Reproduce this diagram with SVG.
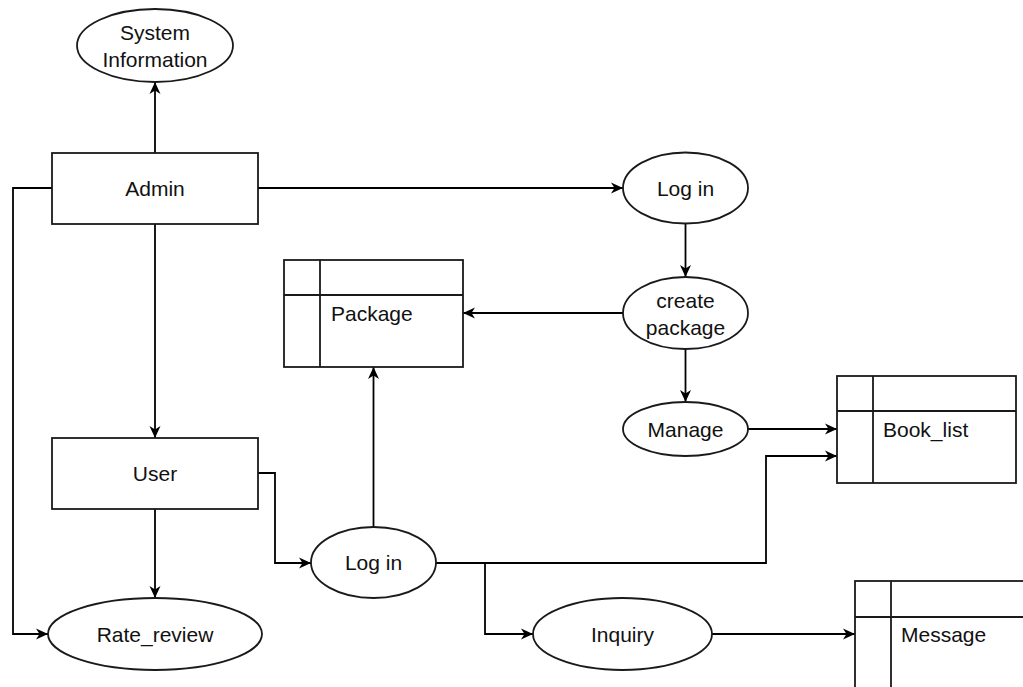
<svg xmlns="http://www.w3.org/2000/svg" width="1023" height="687" viewBox="0 0 1023 687">
<defs>
<marker id="arr" markerUnits="userSpaceOnUse" markerWidth="14" markerHeight="14" refX="12" refY="6" orient="auto">
<path d="M0,0.5 L12,6 L0,11.5 L3.5,6 Z" fill="#000"/>
</marker>
<style>
.s{fill:#fff;stroke:#1a1a1a;stroke-width:1.8}
.l{fill:none;stroke:#1a1a1a;stroke-width:1.8}
.c{fill:none;stroke:#000;stroke-width:1.8;marker-end:url(#arr)}
text{font-family:"Liberation Sans",Arial,sans-serif;font-size:21px;fill:#111;dominant-baseline:central}
.m{text-anchor:middle}
</style>
</defs>
<rect width="1023" height="687" fill="#fff"/>
<g id="connectors">
<path class="c" d="M155,153 V82"/>
<path class="c" d="M258,188 H623"/>
<path class="c" d="M155,224 V438"/>
<path class="c" d="M52,188 H13 V634 H48"/>
<path class="c" d="M155,509 V598"/>
<path class="c" d="M258,473 H275 V563 H311"/>
<path class="c" d="M373.5,527 V367"/>
<path class="c" d="M685.5,223 V277"/>
<path class="c" d="M623,313 H463"/>
<path class="c" d="M685.5,349 V402"/>
<path class="c" d="M748,429 H837"/>
<path class="c" d="M436,563 H766 V456 H837"/>
<path class="c" d="M485,563 V634 H533"/>
<path class="c" d="M712,634 H855"/>
</g>
<g id="sysinfo">
<ellipse class="s" cx="155" cy="45.5" rx="78" ry="36.5"/>
<text class="m" x="155" y="32">System</text>
<text class="m" x="155" y="59">Information</text>
</g>
<g id="admin">
<rect class="s" x="52" y="153" width="206" height="71"/>
<text class="m" x="155" y="188">Admin</text>
</g>
<g id="login1">
<ellipse class="s" cx="685.5" cy="188" rx="62.5" ry="35.5"/>
<text class="m" x="685.5" y="188">Log in</text>
</g>
<g id="createpackage">
<ellipse class="s" cx="685.5" cy="313" rx="62.5" ry="36"/>
<text class="m" x="685.5" y="300">create</text>
<text class="m" x="685.5" y="327">package</text>
</g>
<g id="manage">
<ellipse class="s" cx="685.5" cy="429" rx="62.5" ry="27"/>
<text class="m" x="685.5" y="429">Manage</text>
</g>
<g id="package">
<rect class="s" x="284" y="260" width="179" height="107"/>
<path class="l" d="M284,295 H463 M320,260 V367"/>
<text x="331" y="313">Package</text>
</g>
<g id="booklist">
<rect class="s" x="837" y="376" width="179" height="107"/>
<path class="l" d="M837,411 H1016 M873,376 V483"/>
<text x="883" y="429">Book_list</text>
</g>
<g id="user">
<rect class="s" x="52" y="438" width="206" height="71"/>
<text class="m" x="155" y="473">User</text>
</g>
<g id="ratereview">
<ellipse class="s" cx="155" cy="634" rx="107" ry="36"/>
<text class="m" x="155" y="634">Rate_review</text>
</g>
<g id="login2">
<ellipse class="s" cx="373.5" cy="562.5" rx="62.5" ry="35.5"/>
<text class="m" x="373.5" y="562.5">Log in</text>
</g>
<g id="inquiry">
<ellipse class="s" cx="622.5" cy="634" rx="89.5" ry="36"/>
<text class="m" x="622.5" y="634">Inquiry</text>
</g>
<g id="message">
<rect class="s" x="855" y="581" width="179" height="110"/>
<path class="l" d="M855,617 H1034 M891,581 V691"/>
<text x="901" y="634">Message</text>
</g>
</svg>
